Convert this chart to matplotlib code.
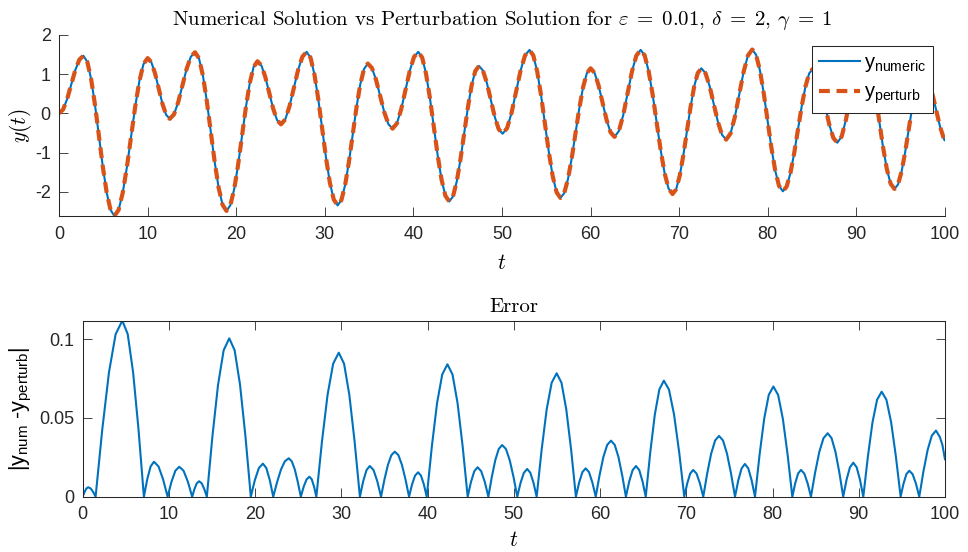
import matplotlib
matplotlib.use("Agg")
import matplotlib.pyplot as plt
import numpy as np

plt.rcParams["font.family"] = ["Liberation Sans", "DejaVu Sans"]
plt.rcParams["mathtext.fontset"] = "custom"
plt.rcParams["mathtext.rm"] = "Liberation Sans"
plt.rcParams["mathtext.it"] = "Liberation Sans:italic"
plt.rcParams["axes.unicode_minus"] = False

# y(t) (blue, numeric solution)
t_numeric = [
    0, 0.458, 0.917, 1.375, 1.833, 2.292, 2.75,
    3.188, 3.625, 4.063, 4.5, 4.938, 5.375, 5.813, 6.25,
    6.719, 7.188, 7.656, 8.125, 8.594, 9.063, 9.531, 10.0,
    10.417, 10.833, 11.25, 11.667, 12.083, 12.5,
    12.975, 13.45, 13.925, 14.4, 14.875, 15.35,
    15.794, 16.238, 16.681, 17.125, 17.569, 18.013, 18.456, 18.9,
    19.338, 19.775, 20.213, 20.65, 21.088, 21.525, 21.963, 22.4,
    22.842, 23.283, 23.725, 24.167, 24.608, 25.05,
    25.533, 26.017, 26.5, 26.983, 27.467, 27.95,
    28.388, 28.825, 29.263, 29.7, 30.138, 30.575, 31.013, 31.45,
    31.875, 32.3, 32.725, 33.15, 33.575, 34.0, 34.425, 34.85,
    35.317, 35.783, 36.25, 36.717, 37.183, 37.65,
    38.133, 38.617, 39.1, 39.583, 40.067, 40.55,
    40.988, 41.425, 41.863, 42.3, 42.738, 43.175, 43.613, 44.05,
    44.469, 44.888, 45.306, 45.725, 46.144, 46.563, 46.981, 47.4,
    47.845, 48.29, 48.735, 49.18, 49.625, 50.07,
    50.575, 51.08, 51.585, 52.09, 52.595, 53.1,
    53.538, 53.975, 54.413, 54.85, 55.288, 55.725, 56.163, 56.6,
    57.025, 57.45, 57.875, 58.3, 58.725, 59.15, 59.575, 60.0,
    60.45, 60.9, 61.35, 61.8, 62.25, 62.7,
    63.192, 63.683, 64.175, 64.667, 65.158, 65.65,
    66.1, 66.55, 67.0, 67.45, 67.9, 68.35, 68.8, 69.25,
    69.656, 70.063, 70.469, 70.875, 71.281, 71.688, 72.094, 72.5,
    72.967, 73.433, 73.9, 74.367, 74.833, 75.3,
    75.792, 76.283, 76.775, 77.267, 77.758, 78.25,
    78.681, 79.113, 79.544, 79.975, 80.406, 80.838, 81.269, 81.7,
    82.125, 82.55, 82.975, 83.4, 83.825, 84.25, 84.675, 85.1,
    85.558, 86.017, 86.475, 86.933, 87.392, 87.85,
    88.342, 88.833, 89.325, 89.817, 90.308, 90.8,
    91.238, 91.675, 92.113, 92.55, 92.988, 93.425, 93.863, 94.3,
    94.7, 95.1, 95.5, 95.9, 96.3, 96.7, 97.1, 97.5,
    97.983, 98.467, 98.95, 99.433, 99.917, 100.0,
]
y_numeric = [
    0, 0.098, 0.368, 0.735, 1.103, 1.372, 1.47,
    1.315, 0.871, 0.208, -0.575, -1.358, -2.021, -2.465, -2.62,
    -2.467, -2.03, -1.377, -0.605, 0.167, 0.82, 1.257, 1.41,
    1.306, 1.023, 0.635, 0.248, -0.036, -0.14,
    -0.026, 0.285, 0.71, 1.135, 1.446, 1.56,
    1.406, 0.967, 0.311, -0.465, -1.241, -1.897, -2.336, -2.49,
    -2.345, -1.93, -1.312, -0.58, 0.152, 0.77, 1.185, 1.33,
    1.222, 0.928, 0.525, 0.123, -0.172, -0.28,
    -0.156, 0.183, 0.645, 1.108, 1.446, 1.57,
    1.421, 0.996, 0.361, -0.39, -1.141, -1.776, -2.201, -2.35,
    -2.212, -1.82, -1.233, -0.54, 0.153, 0.74, 1.132, 1.27,
    1.159, 0.855, 0.44, 0.025, -0.279, -0.39,
    -0.259, 0.1, 0.59, 1.08, 1.439, 1.57,
    1.425, 1.01, 0.392, -0.34, -1.072, -1.69, -2.105, -2.25,
    -2.119, -1.743, -1.183, -0.52, 0.143, 0.703, 1.079, 1.21,
    1.094, 0.778, 0.345, -0.088, -0.404, -0.52,
    -0.377, 0.015, 0.55, 1.085, 1.477, 1.62,
    1.476, 1.066, 0.454, -0.27, -0.994, -1.606, -2.016, -2.16,
    -2.034, -1.675, -1.139, -0.505, 0.129, 0.665, 1.024, 1.15,
    1.033, 0.713, 0.275, -0.163, -0.483, -0.6,
    -0.451, -0.045, 0.51, 1.065, 1.471, 1.62,
    1.48, 1.081, 0.485, -0.22, -0.925, -1.521, -1.92, -2.06,
    -1.938, -1.59, -1.07, -0.455, 0.16, 0.68, 1.028, 1.15,
    1.028, 0.695, 0.24, -0.215, -0.548, -0.67,
    -0.516, -0.095, 0.48, 1.055, 1.476, 1.63,
    1.492, 1.1, 0.513, -0.18, -0.873, -1.46, -1.852, -1.99,
    -1.871, -1.531, -1.024, -0.425, 0.174, 0.681, 1.021, 1.14,
    1.013, 0.668, 0.195, -0.278, -0.623, -0.75,
    -0.59, -0.153, 0.445, 1.043, 1.48, 1.64,
    1.504, 1.117, 0.539, -0.145, -0.829, -1.407, -1.794, -1.93,
    -1.816, -1.489, -1.001, -0.425, 0.151, 0.639, 0.966, 1.08,
    0.954, 0.61, 0.14, -0.33, -0.674, -0.69,
]
# the dashed perturbation curve sits on the numeric one to within a pixel here;
# the gap between them is what the lower panel shows
y_perturb = list(y_numeric)

# |y_num - y_perturb|
t_error = [
    0, 0.217, 0.433, 0.65, 0.933, 1.217, 1.5,
    2.275, 3.05, 3.825, 4.6, 5.225, 5.85, 6.475, 7.1,
    7.49, 7.88, 8.27, 8.797, 9.323, 9.85,
    10.3, 10.75, 11.2, 11.7, 12.2, 12.7,
    12.967, 13.233, 13.5, 13.8, 14.1, 14.4,
    15.05, 15.7, 16.35, 17.0, 17.625, 18.25, 18.875, 19.5,
    19.967, 20.433, 20.9, 21.3, 21.7, 22.1,
    22.55, 23.0, 23.45, 23.9, 24.25, 24.6, 24.95, 25.3,
    25.633, 25.967, 26.3, 26.567, 26.833, 27.1,
    27.75, 28.4, 29.05, 29.7, 30.313, 30.925, 31.538, 32.15,
    32.533, 32.917, 33.3, 33.733, 34.167, 34.6,
    35.0, 35.4, 35.8, 36.2, 36.613, 37.025, 37.438, 37.85,
    38.2, 38.55, 38.9, 39.233, 39.567, 39.9,
    40.5, 41.1, 41.7, 42.3, 42.888, 43.475, 44.063, 44.65,
    45.033, 45.417, 45.8, 46.217, 46.633, 47.05,
    47.45, 47.85, 48.25, 48.65, 49.088, 49.525, 49.963, 50.4,
    50.783, 51.167, 51.55, 51.917, 52.283, 52.65,
    53.23, 53.81, 54.39, 54.97, 55.528, 56.085, 56.643, 57.2,
    57.577, 57.953, 58.33, 58.72, 59.11, 59.5,
    59.943, 60.385, 60.828, 61.27, 61.703, 62.135, 62.568, 63.0,
    63.39, 63.78, 64.17, 64.547, 64.923, 65.3,
    65.825, 66.35, 66.875, 67.4, 67.993, 68.585, 69.178, 69.77,
    70.113, 70.457, 70.8, 71.19, 71.58, 71.97,
    72.428, 72.885, 73.343, 73.8, 74.263, 74.725, 75.188, 75.65,
    76.033, 76.417, 76.8, 77.19, 77.58, 77.97,
    78.503, 79.035, 79.568, 80.1, 80.65, 81.2, 81.75, 82.3,
    82.633, 82.967, 83.3, 83.687, 84.073, 84.46,
    84.945, 85.43, 85.915, 86.4, 86.85, 87.3, 87.75, 88.2,
    88.59, 88.98, 89.37, 89.757, 90.143, 90.53,
    91.063, 91.595, 92.128, 92.66, 93.21, 93.76, 94.31, 94.86,
    95.193, 95.527, 95.86, 96.247, 96.633, 97.02,
    97.505, 97.99, 98.475, 98.96, 99.4, 99.7, 100.0,
]
abs_error = [
    0, 0.003, 0.0052, 0.006, 0.0052, 0.003, 0,
    0.0428, 0.079, 0.1033, 0.1118, 0.1033, 0.079, 0.0428, 0,
    0.0111, 0.0192, 0.0222, 0.0192, 0.0111, 0,
    0.0095, 0.0165, 0.019, 0.0165, 0.0095, 0,
    0.0049, 0.0085, 0.0098, 0.0085, 0.0049, 0,
    0.0385, 0.0711, 0.093, 0.1006, 0.093, 0.0711, 0.0385, 0,
    0.0105, 0.0182, 0.021, 0.0182, 0.0105, 0,
    0.0093, 0.0173, 0.0225, 0.0244, 0.0225, 0.0173, 0.0093, 0,
    0.0064, 0.011, 0.0127, 0.011, 0.0064, 0,
    0.035, 0.0647, 0.0845, 0.0915, 0.0845, 0.0647, 0.035, 0,
    0.0098, 0.0169, 0.0195, 0.0169, 0.0098, 0,
    0.011, 0.0202, 0.0264, 0.0286, 0.0264, 0.0202, 0.011, 0,
    0.0078, 0.0134, 0.0155, 0.0134, 0.0078, 0,
    0.0322, 0.0595, 0.0777, 0.0841, 0.0777, 0.0595, 0.0322, 0,
    0.0094, 0.0162, 0.0187, 0.0162, 0.0094, 0,
    0.0126, 0.0232, 0.0303, 0.0328, 0.0303, 0.0232, 0.0126, 0,
    0.0088, 0.0152, 0.0176, 0.0152, 0.0088, 0,
    0.03, 0.0554, 0.0724, 0.0784, 0.0724, 0.0554, 0.03, 0,
    0.009, 0.0156, 0.018, 0.0156, 0.009, 0,
    0.0136, 0.0252, 0.0329, 0.0356, 0.0329, 0.0252, 0.0136, 0,
    0.0098, 0.0169, 0.0195, 0.0169, 0.0098, 0,
    0.0282, 0.0521, 0.0681, 0.0737, 0.0681, 0.0521, 0.0282, 0,
    0.0085, 0.0147, 0.017, 0.0147, 0.0085, 0,
    0.0148, 0.0273, 0.0357, 0.0386, 0.0357, 0.0273, 0.0148, 0,
    0.0104, 0.018, 0.0208, 0.018, 0.0104, 0,
    0.0268, 0.0495, 0.0647, 0.070, 0.0647, 0.0495, 0.0268, 0,
    0.0085, 0.0147, 0.017, 0.0147, 0.0085, 0,
    0.0154, 0.0285, 0.0372, 0.0403, 0.0372, 0.0285, 0.0154, 0,
    0.0108, 0.0187, 0.0216, 0.0187, 0.0108, 0,
    0.0255, 0.0472, 0.0616, 0.0667, 0.0616, 0.0472, 0.0255, 0,
    0.0083, 0.0143, 0.0165, 0.0143, 0.0083, 0,
    0.0161, 0.0297, 0.0388, 0.042, 0.038, 0.033, 0.0238,
]

x_ticks = [0, 10, 20, 30, 40, 50, 60, 70, 80, 90, 100]
y_ticks_top = [-2, -1, 0, 1, 2]
y_tick_labels_top = ["-2", "-1", "0", "1", "2"]
y_ticks_err = [0, 0.05, 0.1]
y_tick_labels_err = ["0", "0.05", "0.1"]

BLUE = "#0072BD"
ORANGE = "#D95319"
AXIS = "#262626"

fig = plt.figure(figsize=(9.68, 5.52), dpi=100)
ax1 = fig.add_axes([0.061, 0.6087, 0.9152, 0.3279])
ax2 = fig.add_axes([0.0854, 0.1002, 0.8908, 0.3188])

ax1.plot(t_numeric, y_numeric, color=BLUE, lw=1.5, label=r"y$_{\rm numeric}$")
ax1.plot(t_numeric, y_perturb, color=ORANGE, lw=3, linestyle=(0, (2.6, 1.6)),
         label=r"y$_{\rm perturb}$")
ax1.set_xlim(0, 100)
ax1.set_ylim(-2.62, 2)
ax1.set_yticks(y_ticks_top, labels=y_tick_labels_top)
ax1.spines["top"].set_visible(False)
ax1.spines["right"].set_visible(False)

ax2.plot(t_error, abs_error, color=BLUE, lw=1.5)
ax2.set_xlim(0, 100)
ax2.set_ylim(0, 0.1118)
ax2.set_yticks(y_ticks_err, labels=y_tick_labels_err)

for ax, box in ((ax1, False), (ax2, True)):
    ax.set_xticks(x_ticks)
    ax.tick_params(direction="in", length=6.5, width=0.6, colors=AXIS,
                   labelsize=13, top=box, right=box)
    ax.tick_params(axis="x", pad=7)
    ax.tick_params(axis="y", pad=6)
    for sp in ax.spines.values():
        sp.set_color(AXIS)
        sp.set_linewidth(0.75)

cm_text = dict(family="cmr10", math_fontfamily="cm", color="black")
ax1.set_title(r"Numerical Solution vs Perturbation Solution for $\varepsilon\;=\;0.01$, "
              r"$\delta\;=\;2$, $\gamma\;=\;1$", fontsize=15, pad=7, **cm_text)
ax2.set_title("Error", fontsize=15, pad=6.5, **cm_text)

ax1.set_xlabel(r"$t$", fontsize=15.5, math_fontfamily="cm")
ax1.set_ylabel(r"$y(t)$", fontsize=15.5, math_fontfamily="cm")
ax2.set_xlabel(r"$t$", fontsize=15.5, math_fontfamily="cm")
ax2.set_ylabel(r"|y$_{\rm num}$ -y$_{\rm perturb}$|", fontsize=15.5)

ax1.xaxis.set_label_coords(0.5, -0.26)
ax2.xaxis.set_label_coords(0.5, -0.25)
ax1.yaxis.set_label_coords(-0.044, 0.5)
ax2.yaxis.set_label_coords(-0.0716, 0.5)
for lab in (ax1.xaxis.label, ax2.xaxis.label, ax1.yaxis.label, ax2.yaxis.label):
    lab.set_verticalalignment("center")

leg = ax1.legend(loc="upper right", bbox_to_anchor=(0.9865, 0.939), borderaxespad=0,
                 fontsize=14.5, handlelength=2.05, handletextpad=0.2, borderpad=0.35,
                 labelspacing=0.45, fancybox=False, framealpha=1)
leg.get_frame().set_edgecolor(AXIS)
leg.get_frame().set_linewidth(0.75)

fig.savefig("out.png", dpi=100, facecolor="white")
